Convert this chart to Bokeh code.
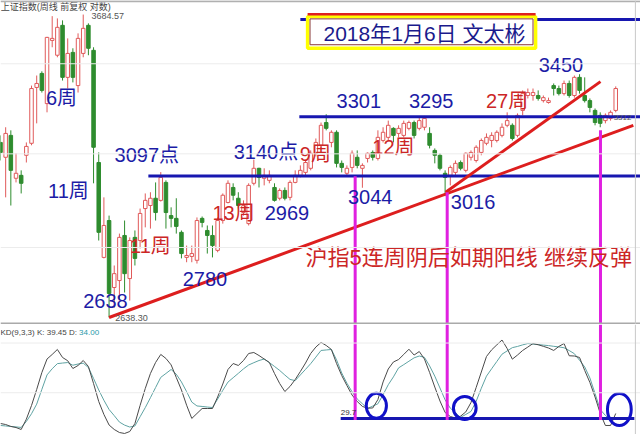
from bokeh.plotting import figure
from bokeh.models import Range1d, Span, ColumnDataSource
from bokeh.layouts import column
from bokeh.embed import file_html
from bokeh.resources import INLINE
from bokeh.core.properties import value

# ---------------- data (weekly candles, Shanghai Composite) ----------------
weeks = list(range(120))
opens = [3200, 3148, 3225, 3076, 3086, 3155, 3197, 3400, 3453, 3340,
         3581, 3523, 3641, 3438, 3534, 3407, 3530, 3641, 3542, 3130,
         2819, 2936, 2727, 2748, 2888, 2754, 2882, 2872, 2975, 2985,
         3009, 3002, 3062, 2952, 2943, 2898, 2819, 2822, 2810, 2943,
         2904, 2888, 2841, 2936, 2995, 3045, 3009, 2962, 2926, 3059,
         3110, 3076, 3069, 3045, 3009, 3035, 3012, 3062, 3086, 3096,
         3110, 3162, 3190, 3271, 3200, 3236, 3127, 3093, 3113, 3148,
         3110, 3144, 3165, 3144, 3207, 3218, 3250, 3232, 3225, 3250,
         3271, 3250, 3254, 3232, 3172, 3155, 3093, 3086, 3096, 3130,
         3103, 3148, 3137, 3165, 3197, 3207, 3207, 3225, 3261, 3261,
         3225, 3315, 3370, 3370, 3370, 3351, 3344, 3407, 3396, 3377,
         3415, 3370, 3438, 3370, 3351, 3315, 3297, 3278, 3286, 3315]
highs = [3225, 3254, 3243, 3162, 3103, 3200, 3407, 3445, 3461, 3595,
         3678, 3669, 3661, 3589, 3550, 3609, 3684.57, 3649, 3554, 3165,
         3012, 2952, 2794, 2894, 2936, 2882, 2904, 2975, 3025, 3029,
         3062, 3097, 3069, 2979, 3009, 2904, 2856, 2856, 2946, 2949,
         2920, 2920, 2946, 3025, 3069, 3059, 3029, 3002, 3059, 3140,
         3112, 3110, 3103, 3059, 3042, 3045, 3069, 3103, 3120, 3137,
         3172, 3214, 3271, 3301, 3243, 3243, 3137, 3120, 3172, 3172,
         3127, 3165, 3172, 3243, 3254, 3278, 3254, 3261, 3278, 3278,
         3278, 3289, 3295, 3254, 3179, 3162, 3103, 3120, 3137, 3137,
         3165, 3172, 3190, 3214, 3232, 3236, 3243, 3268, 3308, 3268,
         3304, 3389, 3396, 3396, 3389, 3370, 3362, 3415, 3407, 3426,
         3426, 3445, 3450, 3438, 3359, 3322, 3308, 3304, 3315, 3404]
lows = [3137, 3012, 2985, 3062, 3025, 3130, 3190, 3268, 3381, 3308,
        3554, 3515, 3426, 3396, 3419, 3381, 3515, 3523, 3059, 2872,
        2816, 2638.30, 2667, 2688, 2712, 2688, 2794, 2847, 2914, 2910,
        2936, 2998, 2910, 2914, 2894, 2816, 2804, 2804, 2800, 2914,
        2831, 2819, 2835, 2926, 2992, 3002, 2975, 2952, 2920, 3052,
        3045, 3052, 3059, 2998, 3002, 3002, 3002, 3059, 3079, 3086,
        3103, 3151, 3183, 3243, 3183, 3113, 3096, 3086, 3096, 3110,
        3044, 3130, 3137, 3137, 3200, 3207, 3200, 3218, 3218, 3243,
        3214, 3243, 3243, 3179, 3127, 3103, 3016, 3052, 3086, 3103,
        3096, 3137, 3130, 3155, 3190, 3183, 3200, 3218, 3254, 3207,
        3218, 3297, 3359, 3351, 3351, 3344, 3340, 3370, 3370, 3370,
        3362, 3362, 3377, 3344, 3308, 3261, 3254, 3268, 3278, 3308]
closes = [3165, 3232, 3103, 3093, 3059, 3186, 3396, 3415, 3389, 3593,
          3589, 3633, 3438, 3530, 3438, 3589, 3629, 3550, 3183, 2898,
          2920, 2709, 2769, 2882, 2769, 2872, 2816, 2959, 3002, 3009,
          2962, 3079, 2962, 2943, 2917, 2831, 2825, 2831, 2936, 2930,
          2888, 2856, 2936, 3019, 3059, 3019, 2985, 2985, 3052, 3110,
          3079, 3086, 3086, 3002, 3035, 3009, 3062, 3086, 3103, 3130,
          3162, 3200, 3261, 3250, 3236, 3127, 3113, 3110, 3162, 3120,
          3120, 3162, 3148, 3218, 3236, 3261, 3225, 3250, 3268, 3271,
          3225, 3278, 3286, 3190, 3155, 3110, 3079, 3113, 3127, 3110,
          3162, 3165, 3183, 3207, 3218, 3225, 3236, 3254, 3278, 3214,
          3297, 3377, 3381, 3381, 3359, 3362, 3351, 3396, 3377, 3415,
          3370, 3438, 3389, 3351, 3326, 3271, 3268, 3297, 3308, 3396]

# KD(9,3,3) indicator
k_vals = [25.6, 24.8, 23.2, 22.3, 20.7, 29.2, 40.5, 53.7, 67.7, 78.8,
          82.6, 86.7, 80.1, 77.4, 71.0, 73.5, 77.6, 72.7, 58.6, 43.8,
          33.1, 24.4, 20.7, 18.2, 17.4, 19.0, 25.6, 40.5, 54.5, 66.9,
          76.0, 82.6, 79.3, 74.0, 63.6, 53.3, 40.7, 29.8, 33.9, 38.0,
          38.0, 38.0, 47.5, 58.2, 70.2, 75.1, 73.5, 77.6, 83.4, 84.2,
          81.7, 78.8, 76.0, 66.9, 58.6, 52.0, 56.2, 61.9, 68.5, 75.5,
          83.4, 88.7, 92.5, 90.0, 86.7, 75.1, 65.2, 57.0, 49.1, 43.8,
          39.7, 38.3, 38.4, 45.4, 59.9, 70.6, 76.4, 78.4, 82.6, 86.9,
          82.1, 85.0, 78.8, 67.7, 55.7, 44.2, 34.7, 31.4, 30.2, 31.7,
          35.2, 42.9, 55.3, 68.1, 80.9, 86.4, 90.5, 94.5, 87.5, 78.7,
          82.1, 85.9, 88.7, 91.6, 90.6, 89.3, 87.9, 85.9, 89.2, 91.6,
          81.5, 81.3, 80.1, 69.4, 59.5, 47.5, 34.0, 24.0, 24.0, 33.9]
d_vals = [24.0, 23.6, 23.2, 22.8, 22.4, 27.3, 33.7, 41.6, 53.8, 65.7,
          70.8, 75.0, 75.5, 75.9, 73.7, 74.7, 75.4, 71.8, 62.8, 53.3,
          44.8, 37.2, 32.1, 26.8, 24.3, 22.7, 23.6, 31.2, 38.7, 46.9,
          55.3, 63.7, 66.9, 70.2, 66.3, 59.9, 51.9, 43.3, 40.1, 39.7,
          39.2, 38.8, 45.8, 53.0, 59.8, 63.4, 67.0, 70.7, 73.9, 75.8,
          77.6, 78.8, 75.9, 72.7, 69.4, 65.6, 62.0, 61.0, 65.7, 70.3,
          75.0, 80.4, 85.9, 86.3, 86.7, 78.1, 67.3, 58.9, 51.8, 45.8,
          41.9, 38.0, 40.0, 41.9, 49.4, 57.6, 64.1, 71.5, 74.2, 77.0,
          79.8, 81.3, 80.2, 73.1, 64.7, 54.9, 45.1, 38.3, 34.4, 30.7,
          33.1, 35.6, 43.9, 54.7, 64.7, 70.8, 76.8, 82.8, 85.5, 88.2,
          89.2, 90.5, 91.6, 91.1, 90.7, 90.3, 89.9, 89.3, 88.8, 88.1,
          85.8, 83.2, 77.8, 72.3, 63.2, 50.3, 37.1, 32.3, 28.1, 29.9]

# ---------------- annotations ----------------
level_lines = [  # (x_start, x_end, price)
    (58.0, 125.0, 3665.0),
    (57.8, 125.0, 3292.0),
    (28.6, 125.0, 3084.0),
]
trend_lines = [  # ((x0, y0), (x1, y1))
    ((21.0, 2638.3), (122.4, 3261.0)),
    ((86.1, 3029.0), (116.05, 3422.0)),
]
marker_x = [68.6, 86.4, 116.05]
marker_top = [3083.0, 3029.0, 3243.0]

blue_labels = ["6周", "11周", "2638", "2780", "2969", "3301", "3044", "3295", "3016", "3450", "3097点", "3140点"]
blue_x = [11.8, 13.15, 20.3, 39.55, 55.4, 69.3, 71.5, 83.3, 91.4, 108.4, 28.3, 51.35]
blue_y = [3362, 3032, 2688, 2752, 2961, 3349, 3014, 3349, 2997, 3484, 3155, 3167]

red_labels = ["11周", "13周", "9周", "12周", "27周"]
red_x = [29.0, 45.07, 60.9, 76.0, 97.97]
red_y = [2856, 2961, 3160, 3185, 3351]

comment_text = "沪指5连周阴后如期阳线 继续反弹"
title_text = "2018年1月6日 文太彬"

circle_x = [72.7, 89.8, 119.7]
circle_y = [40.2, 38.4, 37.2]
circle_w = [3.9, 4.4, 4.6]
circle_h = [20.6, 19.0, 26.4]

# ---------------- styling ----------------
FONT = "'Liberation Sans', 'Noto Sans CJK SC', sans-serif"
BLUE = "#1c1ca6"
RED_TXT = "#cc2626"
UP = "#e05a5a"
DOWN = "#2e8c2e"
LINE_BLUE = "#1717b0"
LINE_RED = "#dd1e1e"
MAGENTA = "#e020e0"

X_RANGE = (0.0, 123.79)

p = figure(width=640, height=324, x_range=Range1d(*X_RANGE),
           y_range=Range1d(2618.0, 3742.1), y_axis_type="log",
           output_backend="svg", toolbar_location=None, min_border=0,
           x_axis_location=None, y_axis_location=None)
p.outline_line_color = None
p.xgrid.visible = False
p.ygrid.visible = False
p.background_fill_color = "white"

for lvl in [3490, 3160, 2850]:
    p.add_layout(Span(location=lvl, dimension="width", line_color="#ececec", line_width=1))
p.add_layout(Span(location=3739.0, dimension="width", line_color="#b0b0b0", line_width=2))
p.add_layout(Span(location=2620.6, dimension="width", line_color="#aaaaaa", line_width=2))
p.add_layout(Span(location=122.8, dimension="height", line_color="#c8c8c8", line_width=1))

inc = [c >= o for o, c in zip(opens, closes)]


def subset(flag):
    idx = [i for i, f in enumerate(inc) if f == flag]
    return ColumnDataSource(dict(
        x=[weeks[i] for i in idx],
        high=[highs[i] for i in idx],
        low=[lows[i] for i in idx],
        top=[max(opens[i], closes[i]) for i in idx],
        bottom=[min(opens[i], closes[i]) for i in idx],
    ))


up_src = subset(True)
dn_src = subset(False)
p.segment(x0="x", y0="low", x1="x", y1="high", source=up_src, line_color=UP, line_width=1)
p.vbar(x="x", width=0.68, top="top", bottom="bottom", source=up_src,
       fill_color="white", line_color=UP, line_width=1)
p.segment(x0="x", y0="low", x1="x", y1="high", source=dn_src, line_color=DOWN, line_width=1)
p.vbar(x="x", width=0.68, top="top", bottom="bottom", source=dn_src,
       fill_color=DOWN, line_color=DOWN, line_width=1)

for x0, x1, lv in level_lines:
    p.line(x=[x0, x1], y=[lv, lv], line_color=LINE_BLUE, line_width=3)

for (ax, ay), (bx, by) in trend_lines:
    p.line(x=[ax, bx], y=[ay, by], line_color=LINE_RED, line_width=3)

p.segment(x0=marker_x, y0=marker_top, x1=marker_x, y1=[2618.0] * 3,
          line_color=MAGENTA, line_width=3)

# title box
p.quad(left=[59.4], right=[103.5], top=[3677], bottom=[3550],
       fill_color="white", line_color="#ffff00", line_width=3.5)
p.quad(left=[59.87], right=[103.0], top=[3667], bottom=[3564],
       fill_color=None, line_color="#8a3a3a", line_width=1)
p.line(x=[59.4, 103.5], y=[3686, 3686], line_color="#e02020", line_width=2.5)
p.text(x=[82.0], y=[3607], text=[title_text], text_font=value(FONT),
       text_font_size=value("21px"), text_color="#1a1a8c",
       text_align="center", text_baseline="middle")

p.text(x=blue_x, y=blue_y, text=blue_labels, text_font=value(FONT),
       text_font_size=value("20px"), text_color=BLUE,
       text_align="center", text_baseline="middle")
p.text(x=red_x, y=red_y, text=red_labels, text_font=value(FONT),
       text_font_size=value("20px"), text_color=RED_TXT,
       text_align="center", text_baseline="middle")
p.text(x=[59.0], y=[2819], text=[comment_text], text_font=value(FONT),
       text_font_size=value("22px"), text_color=RED_TXT,
       text_align="left", text_baseline="middle")

# small info texts
p.text(x=[17.6, 22.2], y=[3677, 2637], text=["3684.57", "2638.30"],
       text_font=value(FONT), text_font_size=value("9px"), text_color="#555555",
       text_align="left", text_baseline="middle")
p.text(x=[118.6], y=[3289], text=["3312"],
       text_font=value(FONT), text_font_size=value("8px"), text_color="#555555",
       text_align="left", text_baseline="middle")
p.text(x=[0.05], y=[3717], text=["上证指数(周线 前复权 对数)"],
       text_font=value(FONT), text_font_size=value("9px"), text_color="#444444",
       text_align="left", text_baseline="middle")

# ---------------- KD panel ----------------
p2 = figure(width=640, height=110, x_range=p.x_range, y_range=Range1d(16.55, 107.3),
            output_backend="svg", toolbar_location=None, min_border=0,
            x_axis_location=None, y_axis_location=None)
p2.outline_line_color = None
p2.xgrid.visible = False
p2.ygrid.visible = False
for lvl in [92.0, 51.0]:
    p2.add_layout(Span(location=lvl, dimension="width", line_color="#ececec", line_width=1))
p2.add_layout(Span(location=122.8, dimension="height", line_color="#c8c8c8", line_width=1))

p2.line(x=weeks, y=d_vals, line_color="#5fa3a3", line_width=1)
p2.line(x=weeks, y=k_vals, line_color="#4a4a4a", line_width=1)

p2.line(x=[65.8, 122.6], y=[29.75, 29.75], line_color=LINE_BLUE, line_width=3)
p2.segment(x0=marker_x, y0=[107.3] * 3, x1=marker_x, y1=[28.5] * 3,
           line_color=MAGENTA, line_width=3)
p2.ellipse(x=circle_x, y=circle_y, width=circle_w, height=circle_h,
           fill_color=None, line_color="#1010c8", line_width=3)

p2.text(x=[0.0], y=[100.7], text=["KD(9,3,3)  K: 39.45  D:"],
        text_font=value(FONT), text_font_size=value("8px"), text_color="#444444",
        text_align="left", text_baseline="middle")
p2.text(x=[15.2], y=[100.7], text=["34.00"],
        text_font=value(FONT), text_font_size=value("8px"), text_color="#2a9aaa",
        text_align="left", text_baseline="middle")
p2.text(x=[65.8], y=[34.3], text=["29.7"],
        text_font=value(FONT), text_font_size=value("8px"), text_color="#333333",
        text_align="left", text_baseline="middle")

layout = column(p, p2)
open("out.html", "w").write(file_html(layout, INLINE))
